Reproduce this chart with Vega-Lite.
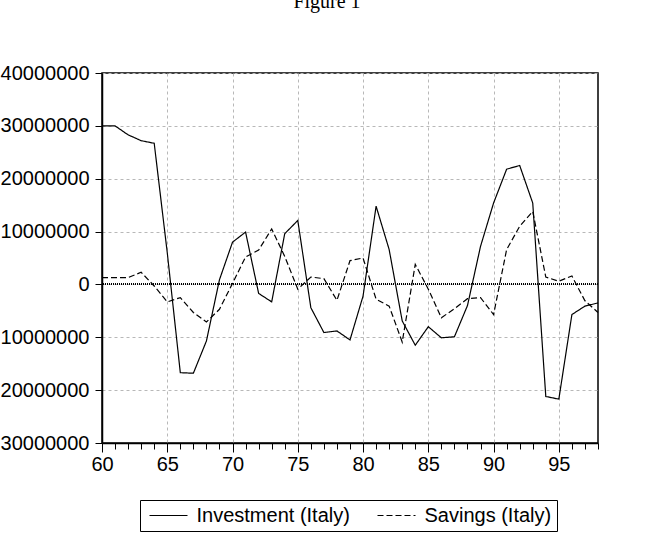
{
  "$schema": "https://vega.github.io/schema/vega-lite/v6.json",
  "width": 496,
  "height": 370,
  "autosize": {"type": "none"},
  "padding": {"left": 102, "top": 73, "right": 50, "bottom": 97},
  "background": "white",
  "title": {"text": "Figure 1", "font": "Liberation Serif", "fontSize": 20, "fontWeight": "normal", "color": "black", "anchor": "middle", "baseline": "alphabetic", "offset": 35, "dx": -23},
  "data": {"values": [
    {"year": 60, "series": "Investment (Italy)", "value": 30000000},
    {"year": 61, "series": "Investment (Italy)", "value": 30000000},
    {"year": 62, "series": "Investment (Italy)", "value": 28300000},
    {"year": 63, "series": "Investment (Italy)", "value": 27200000},
    {"year": 64, "series": "Investment (Italy)", "value": 26700000},
    {"year": 65, "series": "Investment (Italy)", "value": 6000000},
    {"year": 66, "series": "Investment (Italy)", "value": -16700000},
    {"year": 67, "series": "Investment (Italy)", "value": -16800000},
    {"year": 68, "series": "Investment (Italy)", "value": -10700000},
    {"year": 69, "series": "Investment (Italy)", "value": 900000},
    {"year": 70, "series": "Investment (Italy)", "value": 8000000},
    {"year": 71, "series": "Investment (Italy)", "value": 9900000},
    {"year": 72, "series": "Investment (Italy)", "value": -1700000},
    {"year": 73, "series": "Investment (Italy)", "value": -3300000},
    {"year": 74, "series": "Investment (Italy)", "value": 9600000},
    {"year": 75, "series": "Investment (Italy)", "value": 12100000},
    {"year": 76, "series": "Investment (Italy)", "value": -4400000},
    {"year": 77, "series": "Investment (Italy)", "value": -9100000},
    {"year": 78, "series": "Investment (Italy)", "value": -8800000},
    {"year": 79, "series": "Investment (Italy)", "value": -10500000},
    {"year": 80, "series": "Investment (Italy)", "value": -2200000},
    {"year": 81, "series": "Investment (Italy)", "value": 14800000},
    {"year": 82, "series": "Investment (Italy)", "value": 6600000},
    {"year": 83, "series": "Investment (Italy)", "value": -6900000},
    {"year": 84, "series": "Investment (Italy)", "value": -11500000},
    {"year": 85, "series": "Investment (Italy)", "value": -8000000},
    {"year": 86, "series": "Investment (Italy)", "value": -10100000},
    {"year": 87, "series": "Investment (Italy)", "value": -9900000},
    {"year": 88, "series": "Investment (Italy)", "value": -4000000},
    {"year": 89, "series": "Investment (Italy)", "value": 7200000},
    {"year": 90, "series": "Investment (Italy)", "value": 15400000},
    {"year": 91, "series": "Investment (Italy)", "value": 21800000},
    {"year": 92, "series": "Investment (Italy)", "value": 22500000},
    {"year": 93, "series": "Investment (Italy)", "value": 15400000},
    {"year": 94, "series": "Investment (Italy)", "value": -21200000},
    {"year": 95, "series": "Investment (Italy)", "value": -21700000},
    {"year": 96, "series": "Investment (Italy)", "value": -5700000},
    {"year": 97, "series": "Investment (Italy)", "value": -4100000},
    {"year": 98, "series": "Investment (Italy)", "value": -3500000},
    {"year": 60, "series": "Savings (Italy)", "value": 1300000},
    {"year": 61, "series": "Savings (Italy)", "value": 1300000},
    {"year": 62, "series": "Savings (Italy)", "value": 1300000},
    {"year": 63, "series": "Savings (Italy)", "value": 2300000},
    {"year": 64, "series": "Savings (Italy)", "value": -300000},
    {"year": 65, "series": "Savings (Italy)", "value": -3300000},
    {"year": 66, "series": "Savings (Italy)", "value": -2500000},
    {"year": 67, "series": "Savings (Italy)", "value": -5300000},
    {"year": 68, "series": "Savings (Italy)", "value": -7100000},
    {"year": 69, "series": "Savings (Italy)", "value": -4700000},
    {"year": 70, "series": "Savings (Italy)", "value": 200000},
    {"year": 71, "series": "Savings (Italy)", "value": 5200000},
    {"year": 72, "series": "Savings (Italy)", "value": 6500000},
    {"year": 73, "series": "Savings (Italy)", "value": 10500000},
    {"year": 74, "series": "Savings (Italy)", "value": 5300000},
    {"year": 75, "series": "Savings (Italy)", "value": -900000},
    {"year": 76, "series": "Savings (Italy)", "value": 1400000},
    {"year": 77, "series": "Savings (Italy)", "value": 1100000},
    {"year": 78, "series": "Savings (Italy)", "value": -3000000},
    {"year": 79, "series": "Savings (Italy)", "value": 4500000},
    {"year": 80, "series": "Savings (Italy)", "value": 5000000},
    {"year": 81, "series": "Savings (Italy)", "value": -2800000},
    {"year": 82, "series": "Savings (Italy)", "value": -4100000},
    {"year": 83, "series": "Savings (Italy)", "value": -10900000},
    {"year": 84, "series": "Savings (Italy)", "value": 3800000},
    {"year": 85, "series": "Savings (Italy)", "value": -900000},
    {"year": 86, "series": "Savings (Italy)", "value": -6300000},
    {"year": 87, "series": "Savings (Italy)", "value": -4600000},
    {"year": 88, "series": "Savings (Italy)", "value": -2700000},
    {"year": 89, "series": "Savings (Italy)", "value": -2500000},
    {"year": 90, "series": "Savings (Italy)", "value": -5700000},
    {"year": 91, "series": "Savings (Italy)", "value": 6600000},
    {"year": 92, "series": "Savings (Italy)", "value": 11000000},
    {"year": 93, "series": "Savings (Italy)", "value": 13800000},
    {"year": 94, "series": "Savings (Italy)", "value": 1400000},
    {"year": 95, "series": "Savings (Italy)", "value": 600000},
    {"year": 96, "series": "Savings (Italy)", "value": 1600000},
    {"year": 97, "series": "Savings (Italy)", "value": -3100000},
    {"year": 98, "series": "Savings (Italy)", "value": -5300000}
  ]},
  "layer": [
    {
      "mark": {"type": "rule", "color": "black", "strokeWidth": 1, "strokeDash": [1, 1]},
      "encoding": {"y": {"datum": 0, "type": "quantitative"}}
    },
    {
      "mark": {"type": "line", "color": "black", "strokeWidth": 1.2},
      "encoding": {
        "x": {"field": "year", "type": "quantitative",
          "scale": {"domain": [60, 98], "nice": false, "zero": false},
          "axis": {"title": null,
            "values": [60,61,62,63,64,65,66,67,68,69,70,71,72,73,74,75,76,77,78,79,80,81,82,83,84,85,86,87,88,89,90,91,92,93,94,95,96,97,98],
            "labelExpr": "datum.value % 5 === 0 ? datum.label : ''",
            "gridOpacity": {"condition": {"test": "datum.value % 5 === 0 && datum.value > 60", "value": 1}, "value": 0},
            "tickSize": {"condition": {"test": "datum.value % 5 === 0", "value": 9}, "value": 6},
            "labelPadding": 2,
            "labelFlush": false}},
        "y": {"field": "value", "type": "quantitative",
          "scale": {"domain": [-30000000, 40000000], "nice": false, "zero": false},
          "axis": {"title": null, "format": "d",
            "values": [-30000000, -20000000, -10000000, 0, 10000000, 20000000, 30000000, 40000000],
            "tickSize": 7, "labelPadding": 6}},
        "strokeDash": {"field": "series", "type": "nominal",
          "scale": {"domain": ["Investment (Italy)", "Savings (Italy)"], "range": [[1, 0], [6, 3]]},
          "legend": {"title": null, "orient": "none", "legendX": 38, "legendY": 427}}
      }
    }
  ],
  "config": {
    "view": {"stroke": "black", "strokeWidth": 1.5},
    "axis": {
      "grid": true, "gridColor": "#b8b8b8", "gridDash": [3, 3], "gridWidth": 1,
      "domainColor": "black", "domainWidth": 1.5, "tickColor": "black", "tickWidth": 1,
      "labelFont": "Liberation Sans", "labelFontSize": 20, "labelColor": "black"
    },
    "legend": {
      "direction": "horizontal",
      "strokeColor": "black", "strokeWidth": 1, "padding": 5.5,
      "labelFont": "Liberation Sans", "labelFontSize": 20, "labelColor": "black",
      "symbolType": "M-1.2,0L6.4,0", "symbolSize": 100, "symbolStrokeWidth": 1.2, "symbolStrokeColor": "black",
      "columnPadding": 23, "labelOffset": 31
    }
  }
}
